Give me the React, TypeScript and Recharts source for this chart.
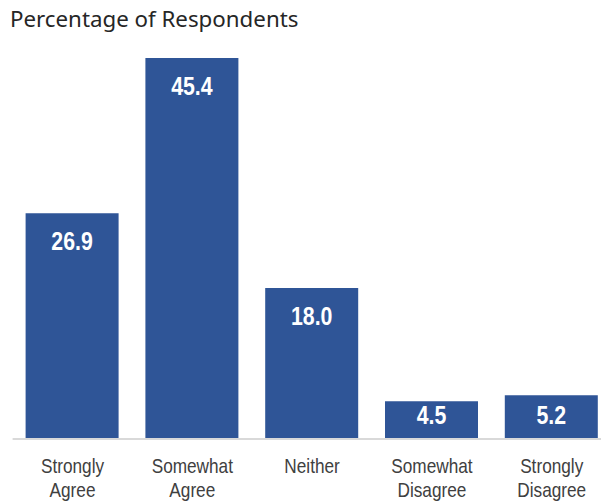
import React from 'react';
import { BarChart, Bar, XAxis, YAxis, LabelList } from 'recharts';

const categories = ['Strongly Agree', 'Somewhat Agree', 'Neither', 'Somewhat Disagree', 'Strongly Disagree'];
const percentages = [26.9, 45.4, 18.0, 4.5, 5.2];
const title = 'Percentage of Respondents';

const data = categories.map((c, i) => ({ name: c, value: percentages[i] }));

const BAR_COLOR = '#2F5597';
const NARROW = 0.82;

const CategoryTick = (props: any) => {
  const { x, y, payload } = props;
  const words = String(payload.value).split(' ');
  return (
    <g>
      {words.map((w: string, i: number) => (
        <text
          key={i}
          x={0}
          y={0}
          transform={`translate(${x}, ${y + 28 + i * 24}) scale(${NARROW}, 1)`}
          textAnchor="middle"
          fill="#404040"
          fontFamily="'Liberation Sans', Arial, sans-serif"
          fontSize={21}
        >
          {w}
        </text>
      ))}
    </g>
  );
};

const ValueLabel = (props: any) => {
  const { x, y, width, height, value } = props;
  const bottom = y + height;
  const cy = Math.min(y + 27.5, bottom - 24.5);
  return (
    <text
      x={0}
      y={0}
      transform={`translate(${x + width / 2}, ${cy + 9.3}) scale(${NARROW}, 1)`}
      textAnchor="middle"
      fill="#ffffff"
      fontFamily="'Liberation Sans', Arial, sans-serif"
      fontWeight="bold"
      fontSize={26}
    >
      {Number(value).toFixed(1)}
    </text>
  );
};

export default function App() {
  return (
    <div style={{ position: 'absolute', left: 0, top: 0, width: 601, height: 502, overflow: 'hidden', background: '#fff' }}>
      <div
        style={{
          position: 'absolute',
          left: 10,
          top: 3,
          fontFamily: "'Noto Sans', sans-serif",
          fontSize: 22.3,
          color: '#262626',
          whiteSpace: 'nowrap',
        }}
      >
        {title}
      </div>
      <BarChart
        width={612}
        height={502}
        data={data}
        margin={{ top: 19.4, right: 0.4, bottom: 8, left: 12.6 }}
        barSize={93}
      >
        <YAxis hide domain={[0, 50]} width={0} />
        <XAxis
          dataKey="name"
          height={55}
          axisLine={{ stroke: '#d9d9d9', strokeWidth: 2 }}
          tickLine={false}
          tickMargin={0}
          interval={0}
          tick={<CategoryTick />}
        />
        <Bar dataKey="value" fill={BAR_COLOR} isAnimationActive={false}>
          <LabelList dataKey="value" content={<ValueLabel />} />
        </Bar>
      </BarChart>
    </div>
  );
}
